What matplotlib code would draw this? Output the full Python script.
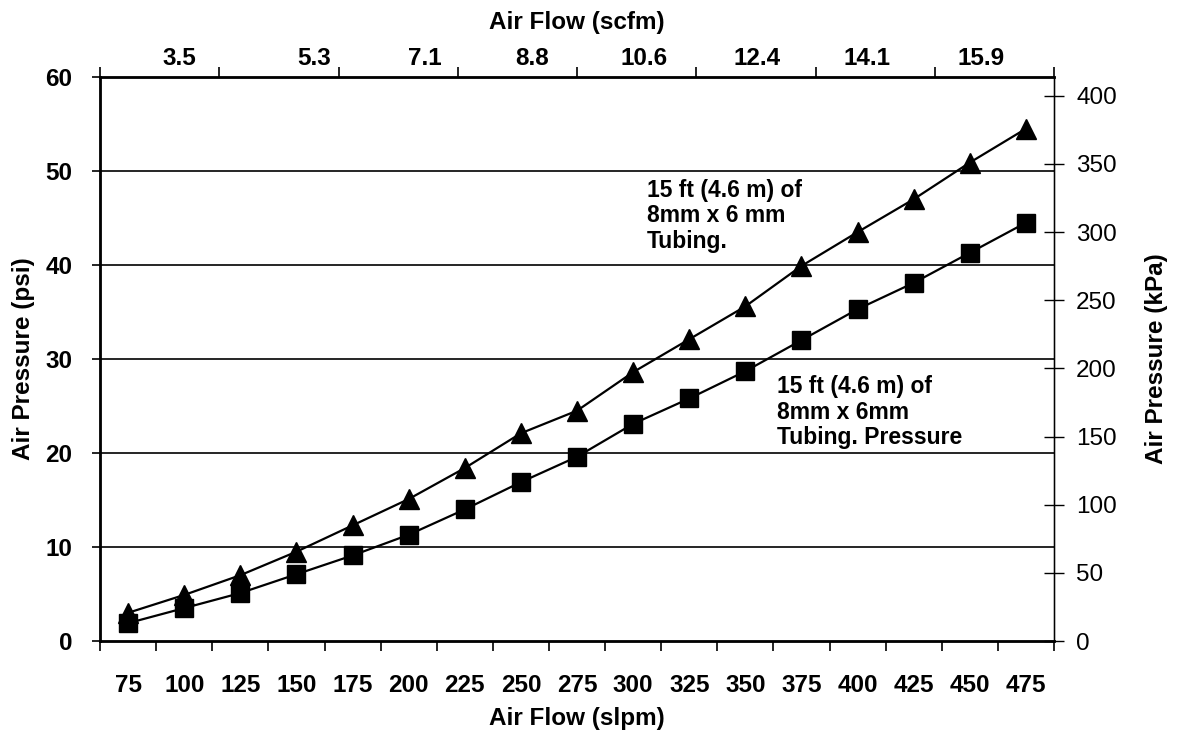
import matplotlib.pyplot as plt
from matplotlib.ticker import FixedLocator, NullFormatter

# ---- data ----
flow_slpm = [75, 100, 125, 150, 175, 200, 225, 250, 275, 300, 325, 350, 375, 400, 425, 450, 475]
psi_6mm = [3.0, 4.9, 7.0, 9.5, 12.3, 15.1, 18.4, 22.1, 24.5, 28.6, 32.1, 35.6, 39.9, 43.5, 47.0, 50.9, 54.5]
psi_6mm_p = [1.9, 3.5, 5.1, 7.1, 9.1, 11.3, 14.0, 16.9, 19.6, 23.1, 25.8, 28.7, 32.0, 35.3, 38.1, 41.3, 44.5]

scfm_labels = ["3.5", "5.3", "7.1", "8.8", "10.6", "12.4", "14.1", "15.9"]
scfm_label_pos = [98, 158, 207, 255, 305, 355, 404, 455]  # where the labels sit, in slpm units
psi_ticks = [0, 10, 20, 30, 40, 50, 60]
kpa_ticks = [0, 50, 100, 150, 200, 250, 300, 350, 400]
PSI_TO_KPA = 6.895

plt.rcParams["font.family"] = ["Liberation Sans", "DejaVu Sans"]
plt.rcParams["font.weight"] = "bold"

TICK_FS = 17.5
TITLE_FS = 17.5

fig = plt.figure(figsize=(11.77, 7.34), dpi=100)
ax = fig.add_axes([0.085, 0.1267, 0.8105, 0.7684])

xmin, xmax = 62.5, 487.5
ax.set_xlim(xmin, xmax)
ax.set_ylim(0, 60)

# gridlines
for y in psi_ticks[1:-1]:
    ax.axhline(y, color="black", lw=1.2, zorder=1)

ax.plot(flow_slpm, psi_6mm, color="black", lw=1.6, marker="^", ms=15, zorder=3)
ax.plot(flow_slpm, psi_6mm_p, color="black", lw=1.6, marker="s", ms=13, zorder=3)

# bottom axis: labels at category centres, tick marks at category edges
ax.xaxis.set_major_locator(FixedLocator(flow_slpm))
ax.set_xticklabels([str(v) for v in flow_slpm])
ax.tick_params(axis="x", which="major", length=0, pad=24, labelsize=TICK_FS)
ax.xaxis.set_minor_locator(FixedLocator([xmin + 25 * k for k in range(18)]))
ax.tick_params(axis="x", which="minor", length=7, width=1.2, direction="out")

ax.set_yticks(psi_ticks)
ax.tick_params(axis="y", length=6, width=1.2, pad=14, labelsize=TICK_FS)

for s in ["left", "bottom", "top"]:
    ax.spines[s].set_linewidth(2)
ax.spines["right"].set_linewidth(1)

ax.set_xlabel("Air Flow (slpm)", fontsize=TITLE_FS, fontweight="bold")
ax.xaxis.set_label_coords(0.5, -0.117)
ax.set_ylabel("Air Pressure (psi)", fontsize=TITLE_FS, fontweight="bold")
ax.yaxis.set_label_coords(-0.068, 0.5)

# right axis in kPa
axr = ax.twinx()
axr.set_ylim(0, 60 * PSI_TO_KPA)
axr.set_yticks(kpa_ticks)
axr.tick_params(axis="y", direction="inout", length=14, width=1, pad=9, labelsize=TICK_FS)
for lab in axr.get_yticklabels():
    lab.set_fontweight("normal")
axr.set_ylabel("Air Pressure (kPa)", fontsize=TITLE_FS, fontweight="bold")
axr.yaxis.set_label_coords(1.095, 0.5)

# top axis in scfm
axt = ax.twiny()
axt.set_xlim(xmin, xmax)
axt.xaxis.set_major_locator(FixedLocator([xmin + (xmax - xmin) / 8 * k for k in range(9)]))
axt.xaxis.set_major_formatter(NullFormatter())
axt.tick_params(axis="x", which="major", length=7, width=1.2, direction="out")
axt.xaxis.set_minor_locator(FixedLocator(scfm_label_pos))
axt.set_xticklabels(scfm_labels, minor=True)
axt.tick_params(axis="x", which="minor", length=0, pad=5, labelsize=TICK_FS)
axt.set_xlabel("Air Flow (scfm)", fontsize=TITLE_FS, fontweight="bold")
axt.xaxis.set_label_coords(0.5, 1.085)

ax.text(306, 49.2, "15 ft (4.6 m) of\n8mm x 6 mm\nTubing.", fontsize=16.5,
        fontweight="bold", va="top", ha="left", linespacing=1.15)
ax.text(364, 28.3, "15 ft (4.6 m) of\n8mm x 6mm\nTubing. Pressure", fontsize=16.5,
        fontweight="bold", va="top", ha="left", linespacing=1.15)

fig.savefig("out.png", dpi=100)
